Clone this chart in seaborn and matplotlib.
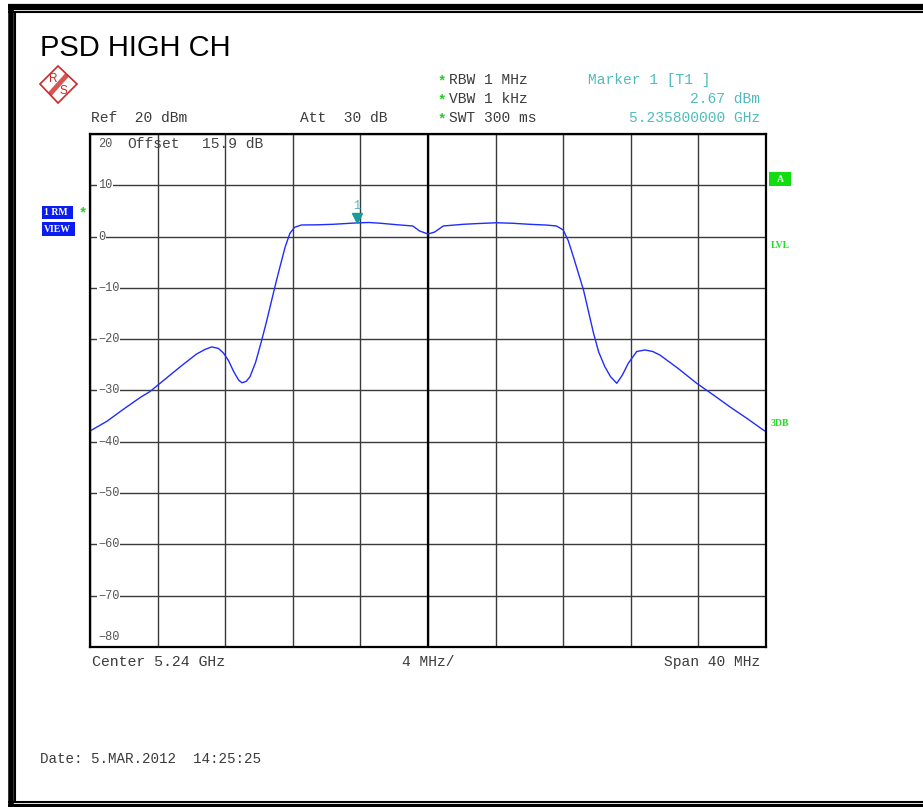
import numpy as np
import pandas as pd
import matplotlib
matplotlib.use("Agg")
import matplotlib.pyplot as plt
import matplotlib.transforms as mtransforms
from matplotlib.lines import Line2D
from matplotlib.patches import Polygon, Rectangle
import seaborn as sns

# Trace (offset from 5.24 GHz centre, MHz / dBm)
freq_offset_mhz = [
    -20.0, -19.0, -18.0, -17.0, -16.45, -14.67, -13.7, -13.2, -12.8, -12.4,
    -12.1, -11.8, -11.5, -11.2, -11.0, -10.75, -10.53, -10.2, -9.84, -9.55,
    -9.25, -9.0, -8.76, -8.45, -8.17, -7.9, -7.5, -6.5, -5.6, -4.22,
    -3.5, -2.8, -1.8, -0.9, -0.5, 0.0, 0.4, 0.9, 2.1, 3.0,
    4.07, 5.0, 6.0, 7.0, 7.6, 8.0, 8.3, 8.6, 9.2, 9.8,
    10.1, 10.47, 10.8, 11.17, 11.5, 11.85, 12.35, 12.84, 13.3, 13.73,
    14.8, 15.9, 16.9, 17.87, 18.9, 19.84, 20.0,
]
level_dbm = [
    -37.9, -36.0, -33.6, -31.3, -30.2, -25.4, -22.9, -22.0, -21.5, -21.8,
    -22.7, -24.2, -26.3, -28.0, -28.5, -28.2, -27.3, -24.5, -20.2, -16.5,
    -12.4, -9.0, -5.9, -2.0, 0.64, 1.8, 2.26, 2.3, 2.4, 2.67,
    2.75, 2.6, 2.3, 2.07, 1.1, 0.5, 0.9, 2.07, 2.4, 2.55,
    2.7, 2.6, 2.4, 2.25, 2.07, 1.3, -0.8, -3.9, -10.4, -18.9,
    -22.5, -25.4, -27.3, -28.6, -27.0, -24.7, -22.4, -22.1, -22.4, -23.1,
    -25.7, -28.6, -30.9, -33.2, -35.5, -37.7, -38.0,
]

y_ticks = [10, 0, -10, -20, -30, -40, -50, -60, -70]
x_ticks = [-20, -16, -12, -8, -4, 0, 4, 8, 12, 16, 20]
marker_offset_mhz = -4.2
marker_level = 2.67

trace = pd.DataFrame({"freq": freq_offset_mhz, "level": level_dbm})

sns.set_style("white")
plt.rcParams["font.family"] = ["Liberation Mono", "DejaVu Sans Mono"]

W, H = 923, 807
fig = plt.figure(figsize=(W / 100, H / 100), dpi=100)


def px(x, y):
    return (x / W, 1 - y / H)


ax = fig.add_axes([90 / W, (H - 647) / H, 676 / W, 513 / H])
sns.lineplot(data=trace, x="freq", y="level", ax=ax, color="#1f2cff", lw=1.0)
ax.set_xlim(-20, 20)
ax.set_ylim(-80, 20)
ax.set_xticks(x_ticks)
ax.set_yticks(y_ticks + [20, -80])
ax.grid(True, color="#3a3a3a", lw=1.0)
ax.tick_params(length=0, labelleft=False, labelbottom=False)
ax.set_xlabel("")
ax.set_ylabel("")
ax.axvline(0, color="black", lw=1.6, zorder=1.5)
for s in ax.spines.values():
    s.set_color("black")
    s.set_linewidth(1.6)

# level labels sit inside the grid, covering the line
blend = mtransforms.blended_transform_factory(ax.transAxes, ax.transData)
for t in y_ticks:
    ax.text(0.012, t, f"{t}".replace("-", "\u2212"), transform=blend, fontsize=8.6,
            color="#555555", va="center", ha="left",
            bbox=dict(fc="white", ec="none", pad=0.6), zorder=3)
ax.text(0.012, 18.0, "20", transform=blend, fontsize=8.6, color="#555555",
        va="center", ha="left")
ax.text(0.012, -78.0, "\u221280", transform=blend, fontsize=8.6, color="#555555",
        va="center", ha="left")
ax.text(0.055, 18.0, "Offset", transform=blend, fontsize=10.5, color="#444444",
        va="center", ha="left")
ax.text(0.166, 18.0, "15.9 dB", transform=blend, fontsize=10.5, color="#444444",
        va="center", ha="left")

# marker 1
ax.plot([marker_offset_mhz], [marker_level + 0.9], marker="v", ms=7,
        color="#1a9a9a", zorder=4)
ax.text(marker_offset_mhz, marker_level + 3.2, "1", fontsize=8.5, color="#50b8b8",
        ha="center", va="center")

# header / footer text
mono_dark = "#3c3c3c"
teal = "#4fbcbc"
star = "#22cc22"
fs = 10.5
fig.text(*px(40, 48), "PSD HIGH CH", fontsize=21, color="black",
         family="Liberation Sans", va="center", ha="left")
fig.text(*px(91, 118), "Ref  20 dBm", fontsize=fs, color=mono_dark, va="center")
fig.text(*px(300, 118), "Att  30 dB", fontsize=fs, color=mono_dark, va="center")
for yy, txt in [(80, "RBW 1 MHz"), (99, "VBW 1 kHz"), (118, "SWT 300 ms")]:
    fig.text(*px(442, yy + 1), "*", fontsize=10, color=star, weight="bold",
             va="center", ha="center")
    fig.text(*px(449, yy), txt, fontsize=fs, color=mono_dark, va="center")
fig.text(*px(588, 80), "Marker 1 [T1 ]", fontsize=fs, color=teal, va="center")
fig.text(*px(760, 99), "2.67 dBm", fontsize=fs, color=teal, va="center", ha="right")
fig.text(*px(760, 118), "5.235800000 GHz", fontsize=fs, color=teal, va="center",
         ha="right")
fig.text(*px(92, 662), "Center 5.24 GHz", fontsize=10.7, color=mono_dark, va="center")
fig.text(*px(402, 662), "4 MHz/", fontsize=fs, color=mono_dark, va="center")
fig.text(*px(760, 662), "Span 40 MHz", fontsize=fs, color=mono_dark, va="center",
         ha="right")
fig.text(*px(40, 759), "Date: 5.MAR.2012  14:25:25", fontsize=10.3, color=mono_dark,
         va="center")

# trace info boxes on the left
for (x0, y0, x1, y1, txt) in [(42, 206, 73, 219, "1 RM"), (42, 222, 75, 236, "VIEW")]:
    fig.add_artist(Rectangle(px(x0, y1), (x1 - x0) / W, (y1 - y0) / H,
                             transform=fig.transFigure, fc="#0a1cf0", ec="none"))
    fig.text(*px(x0 + 2, (y0 + y1) / 2), txt, fontsize=7, color="white",
             family="Liberation Serif", weight="bold", va="center", ha="left")
fig.text(*px(83, 213), "*", fontsize=10, color=star, weight="bold", va="center",
         ha="center")

# right-hand indicators
fig.add_artist(Rectangle(px(769, 186), 22 / W, 14 / H, transform=fig.transFigure,
                         fc="#11dd11", ec="none"))
fig.text(*px(780, 179), "A", fontsize=7, color="white", family="Liberation Serif",
         weight="bold", va="center", ha="center")
fig.text(*px(771, 245), "LVL", fontsize=7, color="#22dd22", family="Liberation Serif",
         weight="bold", va="center")
fig.text(*px(771, 423), "3DB", fontsize=7, color="#22dd22", family="Liberation Serif",
         weight="bold", va="center")

# R&S logo
red = "#cc2a2a"
fig.add_artist(Polygon([px(58, 66), px(77, 84), px(58, 103), px(40, 84)],
                       closed=True, transform=fig.transFigure, fc="white", ec=red,
                       lw=1.2))
fig.add_artist(Line2D([px(67, 75)[0], px(50, 94)[0]], [px(67, 75)[1], px(50, 94)[1]],
                      transform=fig.transFigure, color=red, lw=3.5, alpha=0.8,
                      solid_capstyle="butt"))
fig.text(*px(53, 79), "R", fontsize=8.5, color=red, family="Liberation Sans",
         va="center", ha="center")
fig.text(*px(63, 91), "S", fontsize=8.5, color=red, family="Liberation Sans",
         va="center", ha="center")

# page frame: thick outer and thin inner line on top, left and bottom
def hline(y, lw):
    fig.add_artist(Line2D([px(8, y)[0], 1], [px(8, y)[1]] * 2,
                          transform=fig.transFigure, color="black", lw=lw,
                          solid_capstyle="butt"))


def vline(x, y0, y1, lw):
    fig.add_artist(Line2D([px(x, y0)[0]] * 2, [px(x, y0)[1], px(x, y1)[1]],
                          transform=fig.transFigure, color="black", lw=lw,
                          solid_capstyle="butt"))


hline(7, 4.5)
hline(12, 1.5)
hline(801.5, 1.5)
hline(805.5, 3.0)
vline(10.5, 4, 807, 4.0)
vline(15, 12, 802, 1.5)

fig.savefig("out.png", dpi=100, facecolor="white")
